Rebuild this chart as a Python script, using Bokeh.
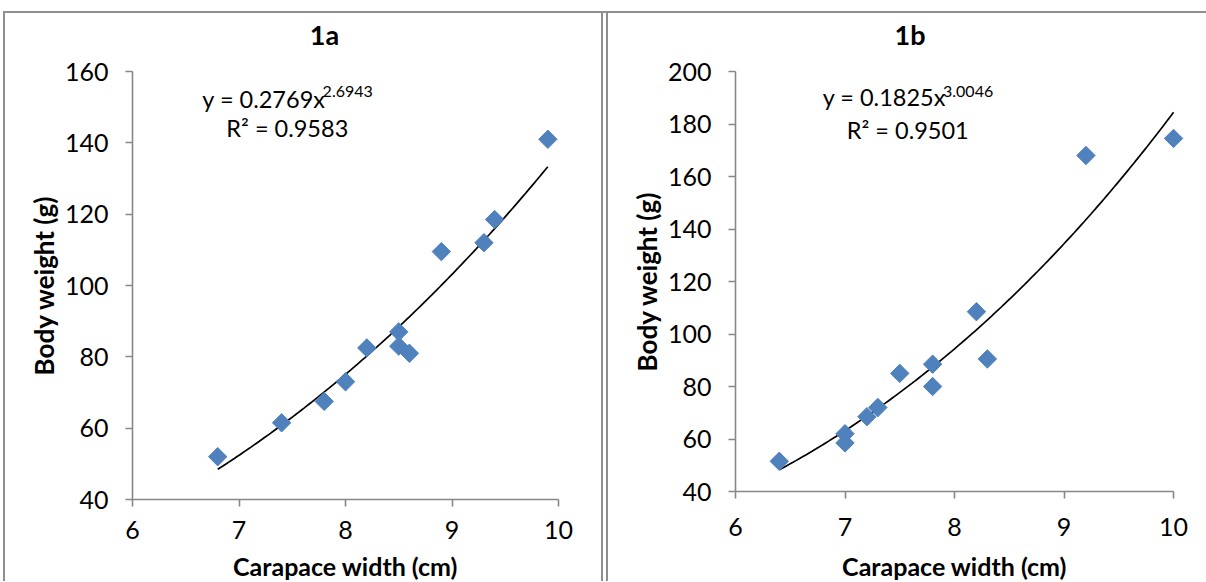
import numpy as np
from bokeh.plotting import figure
from bokeh.models import Range1d, FixedTicker, Label, Spacer
from bokeh.layouts import row, column
from bokeh.core.properties import value
from bokeh.embed import file_html
from bokeh.resources import INLINE

# ---------------- data ----------------
a_width = [6.8, 7.4, 7.8, 8.0, 8.2, 8.5, 8.5, 8.6, 8.9, 9.3, 9.4, 9.9]
a_weight = [52.0, 61.5, 67.5, 73.0, 82.5, 87.0, 83.0, 81.0, 109.5, 112.0, 118.5, 141.0]
b_width = [6.4, 7.0, 7.0, 7.2, 7.3, 7.5, 7.8, 7.8, 8.2, 8.3, 9.2, 10.0]
b_weight = [51.5, 62.0, 58.5, 68.5, 72.0, 85.0, 88.5, 80.0, 108.5, 90.5, 168.0, 174.5]

a_coef, a_exp, a_r2 = 0.2769, 2.6943, 0.9583
b_coef, b_exp, b_r2 = 0.1825, 3.0046, 0.9501

x_ticks = [6, 7, 8, 9, 10]
a_y_ticks = [40, 60, 80, 100, 120, 140, 160]
b_y_ticks = [40, 60, 80, 100, 120, 140, 160, 180, 200]

titles = ["1a", "1b"]
x_label = "Carapace width (cm)"
y_label = "Body weight (g)"

FONT = "Lato"
BLUE = "#4F81BD"
GRAY = "#878787"
BORDER = "#8f8f8f"

HEAD_H, CHART_H, FOOT_H = 40, 497, 31


def strip(p):
    p.outline_line_color = None
    p.grid.visible = False
    p.background_fill_color = "white"
    p.border_fill_color = "white"


def make_panel(title, xs, ys, coef, expo, r2, yticks, width,
               mb_left, mb_right, mb_top, mb_bottom, x_end,
               title_x, eq_pos, sup_pos, r2_pos, xt_standoff):
    xr = Range1d(x_ticks[0], x_end)

    # ---- header with the chart title ----
    head = figure(width=width, height=HEAD_H, output_backend="svg",
                  toolbar_location=None, tools="", title=None,
                  x_range=xr, y_range=Range1d(0, HEAD_H),
                  x_axis_type=None, y_axis_type=None, min_border=0,
                  min_border_left=mb_left, min_border_right=mb_right)
    strip(head)
    head.text(x=[title_x], y=[HEAD_H - 20.7], text=[title],
              text_font=value(FONT), text_font_size="27px",
              text_font_style="bold", text_align="center",
              text_baseline="middle", text_color="black")

    # ---- chart ----
    p = figure(width=width, height=CHART_H, output_backend="svg",
               toolbar_location=None, tools="", title=None,
               x_range=xr, y_range=Range1d(yticks[0], yticks[-1]),
               min_border=0,
               min_border_left=mb_left, min_border_right=mb_right,
               min_border_top=mb_top, min_border_bottom=mb_bottom)
    strip(p)

    for ax in (p.xaxis[0], p.yaxis[0]):
        ax.axis_line_color = GRAY
        ax.axis_line_width = 1.6
        ax.major_tick_line_color = GRAY
        ax.major_tick_line_width = 1.6
        ax.major_tick_out = 7
        ax.major_tick_in = 0
        ax.minor_tick_line_color = None
        ax.major_label_text_font = FONT
        ax.major_label_text_font_size = "25px"
        ax.major_label_text_color = "black"

    p.xaxis[0].bounds = (x_ticks[0], x_ticks[-1])
    p.xaxis[0].ticker = FixedTicker(ticks=x_ticks)
    p.yaxis[0].ticker = FixedTicker(ticks=yticks)
    p.yaxis[0].axis_label = y_label
    p.yaxis[0].axis_label_text_font = FONT
    p.yaxis[0].axis_label_text_font_style = "bold"
    p.yaxis[0].axis_label_text_color = "black"
    p.yaxis[0].axis_label_text_font_size = "26px"
    p.yaxis[0].major_label_standoff = 17
    p.yaxis[0].axis_label_standoff = 2
    p.xaxis[0].major_label_standoff = xt_standoff

    # trend line from the displayed power fit
    tx = np.linspace(min(xs), max(xs), 120)
    ty = coef * tx ** expo
    p.line(tx, ty, line_color="black", line_width=1.7)

    p.scatter(xs, ys, marker="square", size=13, angle=np.pi / 4,
              fill_color=BLUE, line_color=BLUE)

    p.add_layout(Label(x=eq_pos[0], y=eq_pos[1], text=f"y = {coef}x",
                       text_font=FONT, text_font_size="23.5px",
                       text_baseline="middle", text_align="left",
                       text_color="black"))
    p.add_layout(Label(x=sup_pos[0], y=sup_pos[1], text=f"{expo}",
                       text_font=FONT, text_font_size="16px",
                       text_baseline="middle", text_align="left",
                       text_color="black"))
    p.add_layout(Label(x=r2_pos[0], y=r2_pos[1], text=f"R\u00b2 = {r2}",
                       text_font=FONT, text_font_size="23.5px",
                       text_baseline="middle", text_align="left",
                       text_color="black"))

    # ---- footer with the x axis title ----
    foot = figure(width=width, height=FOOT_H, output_backend="svg",
                  toolbar_location=None, tools="", title=None,
                  x_range=xr, y_range=Range1d(0, FOOT_H),
                  x_axis_type=None, y_axis_type=None, min_border=0,
                  min_border_left=mb_left, min_border_right=mb_right)
    strip(foot)
    foot.text(x=[(x_ticks[0] + x_ticks[-1]) / 2], y=[FOOT_H / 2], text=[x_label],
              text_font=value(FONT), text_font_size="25px",
              text_font_style="bold", text_align="center",
              text_baseline="middle", text_color="black")

    return column(head, p, foot)


pa = make_panel(titles[0], a_width, a_weight, a_coef, a_exp, a_r2, a_y_ticks,
                width=596, mb_left=127, mb_right=43, mb_top=18, mb_bottom=51,
                x_end=10.0, title_x=7.803,
                eq_pos=(6.656, 152.2), sup_pos=(7.785, 154.3), r2_pos=(6.881, 144.2),
                xt_standoff=14)
pb = make_panel(titles[1], b_width, b_weight, b_coef, b_exp, b_r2, b_y_ticks,
                width=598, mb_left=127, mb_right=22, mb_top=18, mb_bottom=59,
                x_end=10.1, title_x=7.594,
                eq_pos=(6.797, 190.2), sup_pos=(7.895, 192.3), r2_pos=(7.016, 177.8),
                xt_standoff=19)

H = HEAD_H + CHART_H + FOOT_H


def vline(h):
    return Spacer(width=2, height=h, styles={"background-color": BORDER})


top_rule = row(Spacer(width=3, height=2),
               Spacer(width=1203, height=2, styles={"background-color": BORDER}))
main = row(Spacer(width=3, height=H), vline(H), pa, vline(H),
           Spacer(width=3, height=H), vline(H), pb)
layout = column(Spacer(width=1206, height=11), top_rule, main)

open("out.html", "w").write(file_html(layout, INLINE))
